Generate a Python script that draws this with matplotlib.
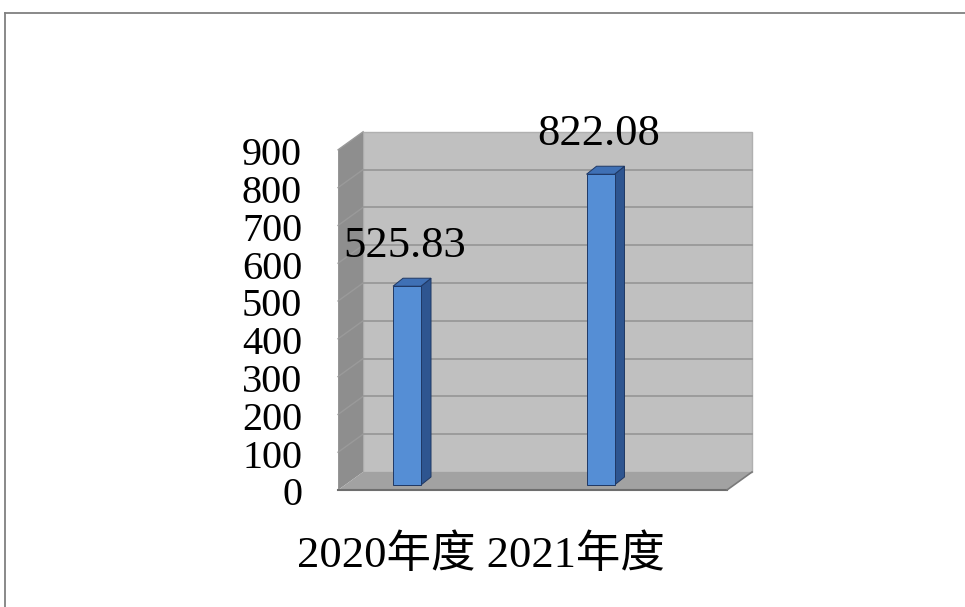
import numpy as np
import matplotlib.pyplot as plt
from matplotlib.patches import Polygon
from matplotlib.lines import Line2D

plt.rcParams['font.family'] = ['Liberation Serif', 'Noto Sans CJK SC']

categories = ['2020年度', '2021年度']
values = [525.83, 822.08]
value_labels = ['525.83', '822.08']
yticks = [0, 100, 200, 300, 400, 500, 600, 700, 800, 900]

W, H = 965, 607
fig = plt.figure(figsize=(W / 100, H / 100), dpi=100)
ax = fig.add_axes([0, 0, 1, 1])
xmin, xmax = -2.1034, 2.8837
ymin, ymax = -322.8, 1283.0
ax.set_xlim(xmin, xmax)
ax.set_ylim(ymin, ymax)
ax.axis('off')

# data units per pixel
sx = (xmax - xmin) / W
sy = (ymax - ymin) / H


def pt(x, y, dx=0, dy=0):
    # dx, dy are pixel shifts (dy positive = up)
    return (x + dx * sx, y + dy * sy)


x0, x1 = -0.32, 1.69
top = yticks[-1]
back = (18, 13)
front = (-7, -5)

# back wall
ax.add_patch(Polygon([pt(x0, 0, *back), pt(x1, 0, *back), pt(x1, top, *back), pt(x0, top, *back)],
                     closed=True, fc='#c0c0c0', ec='#b0b0b0', lw=1, zorder=1))
for v in yticks[1:-1]:
    a, b = pt(x0, v, *back), pt(x1, v, *back)
    ax.plot([a[0], b[0]], [a[1], b[1]], color='#9c9c9c', lw=1.4, zorder=2)

# side wall
ax.add_patch(Polygon([pt(x0, 0, *front), pt(x0, 0, *back), pt(x0, top, *back), pt(x0, top, *front)],
                     closed=True, fc='#8e8e8e', ec='none', zorder=2))
for v in yticks[1:]:
    a, b = pt(x0, v, *front), pt(x0, v, *back)
    ax.plot([a[0], b[0]], [a[1], b[1]], color='#9a9a9a', lw=1, zorder=2)

# floor
ax.add_patch(Polygon([pt(x0, 0, *front), pt(x1, 0, *front), pt(x1, 0, *back), pt(x0, 0, *back)],
                     closed=True, fc='#a2a2a2', ec='none', zorder=2))
a, b = pt(x0, 0, *front), pt(x1, 0, *front)
ax.plot([a[0], b[0]], [a[1], b[1]], color='#6e6e6e', lw=1.5, zorder=3)
c = pt(x1, 0, *back)
ax.plot([b[0], c[0]], [b[1], c[1]], color='#7a7a7a', lw=1.2, zorder=3)

# bars
bars = ax.bar(range(len(values)), values, width=28 * sx, color='#558ed5',
              edgecolor='#1f3864', lw=0.7, zorder=5)
for rect in bars:
    x, w, h = rect.get_x(), rect.get_width(), rect.get_height()
    side = [pt(x + w, 0), pt(x + w, h), pt(x + w, h, 10, 8), pt(x + w, 0, 10, 8)]
    topf = [pt(x, h), pt(x + w, h), pt(x + w, h, 10, 8), pt(x, h, 10, 8)]
    ax.add_patch(Polygon(side, closed=True, fc='#2e5590', ec='#1f3864', lw=0.7, zorder=4))
    ax.add_patch(Polygon(topf, closed=True, fc='#3f70b5', ec='#1f3864', lw=0.7, zorder=4))

# value labels
for i, (v, lab) in enumerate(zip(values, value_labels)):
    ax.text(*pt(i, v, -2, 29), lab, ha='center', va='baseline', fontsize=32, zorder=6)

# y tick labels
for v in yticks:
    ax.text(*pt(x0, v, -43, -11), str(v), ha='right', va='center', fontsize=29, zorder=6)

# category labels
ax.text(*pt((len(categories) - 1) / 2, 0, -23, -70), ' '.join(categories),
        ha='center', va='center', fontsize=32, zorder=6)

# outer frame (top and left edges visible)
fig.add_artist(Line2D([5 / W, 1], [1 - 12.5 / H, 1 - 12.5 / H], transform=fig.transFigure,
                      color='#808080', lw=1.3))
fig.add_artist(Line2D([5 / W, 5 / W], [0, 1 - 12.5 / H], transform=fig.transFigure,
                      color='#808080', lw=1.3))

fig.savefig('out.png', dpi=100)
